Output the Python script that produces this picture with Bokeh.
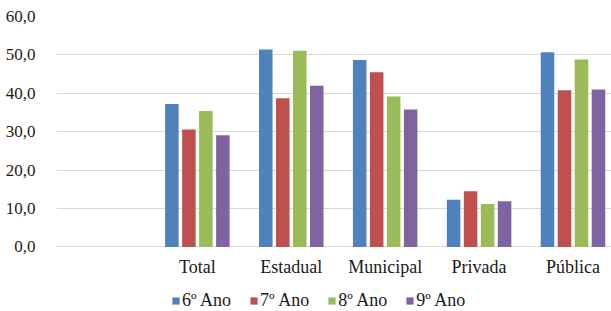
from bokeh.plotting import figure
from bokeh.models import (ColumnDataSource, Range1d, FixedTicker, Legend, LegendItem, LinearAxis)
from bokeh.transform import dodge
from bokeh.embed import file_html
from bokeh.resources import INLINE

categories = ["Total", "Estadual", "Municipal", "Privada", "Pública"]
ano6 = [37.2, 51.4, 48.7, 12.3, 50.7]
ano7 = [30.6, 38.7, 45.5, 14.5, 40.8]
ano8 = [35.4, 51.1, 39.2, 11.2, 48.8]
ano9 = [29.1, 42.0, 35.8, 11.9, 41.0]
series_names = ["6º Ano", "7º Ano", "8º Ano", "9º Ano"]
colors = ["#4F81BD", "#C0504D", "#9BBB59", "#8064A2"]
y_ticks = [0, 10, 20, 30, 40, 50, 60]

# category slot i+1 (slot 0 is an empty category), centred at +0.5
xpos = [i + 1.5 for i in range(len(categories))]
src = ColumnDataSource(dict(x=xpos, a6=ano6, a7=ano7, a8=ano8, a9=ano9))

p = figure(width=611, height=311, output_backend="svg", toolbar_location=None,
           x_range=Range1d(0, 5.91), y_range=Range1d(-16.79, 60),
           x_axis_location=None,
           min_border_left=56, min_border_right=0, min_border_top=16,
           min_border_bottom=0)
p.outline_line_color = None
p.background_fill_color = "white"
p.border_fill_color = "white"

step = 0.181
bw = 0.144
renderers = []
for k, (col, c) in enumerate(zip(["a6", "a7", "a8", "a9"], colors)):
    r = p.vbar(x=dodge("x", (k - 1.5) * step), top=col, width=bw, source=src,
               fill_color=c, line_color=None)
    renderers.append(r)

font = "Liberation Serif"
tc = "#1a1a1a"

xaxis = LinearAxis(fixed_location=0)
xaxis.ticker = FixedTicker(ticks=xpos)
xaxis.major_label_overrides = {x: c for x, c in zip(xpos, categories)}
xaxis.axis_line_color = None
xaxis.major_tick_line_color = None
xaxis.minor_tick_line_color = None
xaxis.major_label_standoff = 4
xaxis.major_label_text_font = font
xaxis.major_label_text_font_size = "18px"
xaxis.major_label_text_color = tc
p.add_layout(xaxis, "below")

p.xgrid.grid_line_color = None
p.ygrid.grid_line_color = "#D9D9D9"
p.ygrid.grid_line_width = 1
p.ygrid.ticker = FixedTicker(ticks=y_ticks)

p.yaxis.ticker = FixedTicker(ticks=y_ticks)
p.yaxis.major_label_overrides = {t: f"{t},0" for t in y_ticks}
p.yaxis.axis_line_color = None
p.yaxis.major_tick_line_color = None
p.yaxis.minor_tick_line_color = None
p.yaxis.major_label_standoff = 15
p.yaxis.major_label_text_font = font
p.yaxis.major_label_text_font_size = "17px"
p.yaxis.major_label_text_color = tc

legend = Legend(items=[LegendItem(label=n, renderers=[r]) for n, r in zip(series_names, renderers)],
                orientation="horizontal", location=(115, 0),
                glyph_width=9, glyph_height=9, label_standoff=2, spacing=18,
                padding=0, margin=0, border_line_color=None,
                background_fill_alpha=0)
legend.label_text_font = "serif"
legend.label_text_font_size = "18px"
legend.label_text_color = tc
p.add_layout(legend)

open("out.html", "w").write(file_html(p, INLINE))
